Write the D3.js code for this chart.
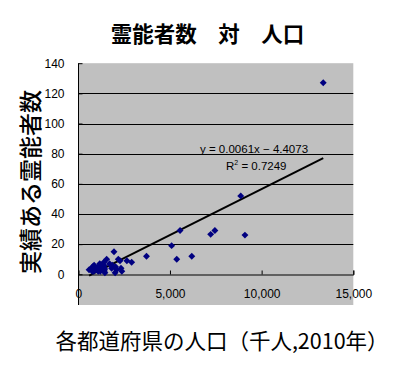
<!DOCTYPE html>
<html><head><meta charset="utf-8">
<script src="https://cdn.jsdelivr.net/npm/d3@7"></script>
<style>
html,body{margin:0;padding:0;background:#fff;}
svg{display:block;}
</style></head>
<body>
<svg id="chart" width="403" height="368"></svg>
<script>
// ---- data ----
const population = [13360, 9090, 8860, 7450, 7220, 6190, 5550, 5370, 5090, 3720,
  589, 717, 764, 785, 806, 850, 863, 996, 1002, 1086,
  1093, 1135, 1169, 1170, 1197, 1330, 1373, 1393, 1401, 1411,
  1427, 1431, 1451, 1547, 1706, 1817, 1855, 1947, 2008, 2029,
  2081, 2182, 2275, 2330, 2374, 2650, 2910];
const psychics = [127, 26, 52, 29, 26.5, 12, 29, 10, 19, 12,
  3, 4, 2, 5, 3, 2, 6, 4, 3, 2,
  5, 3, 4, 7, 2, 3, 5, 8, 6, 2,
  4, 3, 1, 10, 7, 4, 6, 15, 1, 5,
  3, 10, 9, 4, 2, 9, 8];
const xTicks = [0, 5000, 10000, 15000];
const yTicks = [0, 20, 40, 60, 80, 100, 120, 140];
const trendSlope = 0.0061, trendIntercept = -4.4073;
const eqLabel = "y = 0.0061x \u2212 4.4073";
const r2Label = "0.7249";
const title = "霊能者数\u3000対\u3000人口";
const xTitle = "各都道府県の人口（千人,2010年）";
const yTitle = "実績ある霊能者数";

const svg = d3.select("#chart");
const L = 78.3, R = 353.3, T = 63.2, B = 274.3, areaBottom = 305;
const x = d3.scaleLinear().domain([0, 15000]).range([L, R]);
const y = d3.scaleLinear().domain([0, 140]).range([B, T]);
const cjk = "'Noto Sans CJK JP','Noto Sans',sans-serif";
const num = "'Liberation Sans',Arial,sans-serif";

// plot area
svg.append("rect").attr("x", L).attr("y", T).attr("width", R - L).attr("height", areaBottom - T)
  .attr("fill", "#c0c0c0");

// gridlines
svg.append("g").selectAll("line").data(yTicks.filter(d => d > 0 && d < 140)).join("line")
  .attr("x1", L).attr("x2", R).attr("y1", d => Math.round(y(d)) + 0.5).attr("y2", d => Math.round(y(d)) + 0.5)
  .attr("stroke", "#000").attr("stroke-width", 1);

// x axis
const xAxis = d3.axisBottom(x).tickValues(xTicks).tickSize(-4).tickFormat(d3.format(",")).tickPadding(15);
const gx = svg.append("g").attr("transform", `translate(0,${Math.round(B) + 0.5})`).call(xAxis);
gx.select(".domain").attr("stroke", "#000");
gx.selectAll(".tick line").attr("stroke", "#000");
gx.selectAll("text").attr("font-family", num).attr("font-size", 12).attr("fill", "#000");

// y axis
const yAxis = d3.axisLeft(y).tickValues(yTicks).tickSize(-4).tickPadding(14).tickFormat(d3.format("d"));
const gy = svg.append("g").attr("transform", `translate(${Math.round(L) + 0.5},0)`).call(yAxis);
gy.select(".domain").remove();
gy.selectAll(".tick line").attr("stroke", "#000");
gy.selectAll("text").attr("font-family", num).attr("font-size", 12).attr("fill", "#000");
svg.append("line").attr("x1", Math.round(L) + 0.5).attr("x2", Math.round(L) + 0.5)
  .attr("y1", T).attr("y2", areaBottom).attr("stroke", "#000");

// trendline
const xMin = d3.min(population), xMax = d3.max(population);
svg.append("line")
  .attr("x1", x(xMin)).attr("y1", y(trendSlope * xMin + trendIntercept))
  .attr("x2", x(xMax)).attr("y2", y(trendSlope * xMax + trendIntercept))
  .attr("stroke", "#000").attr("stroke-width", 2);

// markers
const pts = population.map((p, i) => ({p, v: psychics[i]}));
svg.append("g").selectAll("path").data(pts).join("path")
  .attr("d", d3.symbol(d3.symbolSquare, 24))
  .attr("transform", d => `translate(${x(d.p)},${y(d.v)}) rotate(45)`)
  .attr("fill", "#000080");

// equation labels
svg.append("text").attr("x", 200).attr("y", 153).attr("font-family", num).attr("font-size", 11.5)
  .attr("fill", "#000").text(eqLabel);
const r2 = svg.append("text").attr("x", 226).attr("y", 170).attr("font-family", num).attr("font-size", 11.5)
  .attr("fill", "#000");
r2.append("tspan").text("R");
r2.append("tspan").attr("dy", -5).attr("font-size", 7).text("2");
r2.append("tspan").attr("dy", 5).text(" = " + r2Label);

// titles
svg.append("text").attr("x", 207.5).attr("y", 42).attr("text-anchor", "middle")
  .attr("font-family", cjk).attr("font-size", 21.5).attr("font-weight", "bold").attr("fill", "#000").text(title);
svg.append("text").attr("x", 222).attr("y", 349).attr("text-anchor", "middle")
  .attr("font-family", cjk).attr("font-size", 21.5).attr("fill", "#000").text(xTitle);
svg.append("text").attr("transform", "translate(39,182) rotate(-90)").attr("text-anchor", "middle")
  .attr("font-family", cjk).attr("font-size", 23).attr("font-weight", 500).attr("fill", "#000").text(yTitle);
</script>
</body></html>
